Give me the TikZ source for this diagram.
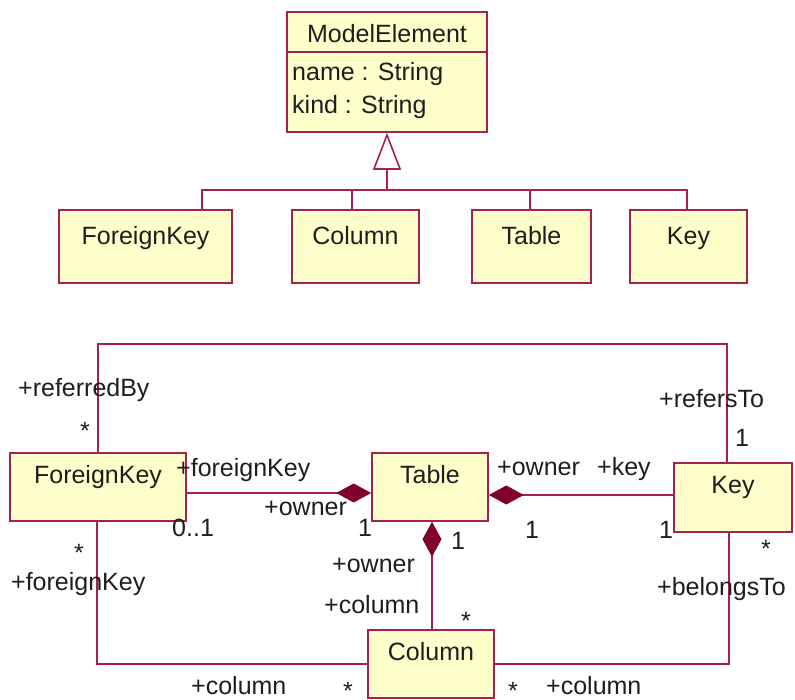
\documentclass[tikz,border=0pt]{standalone}
\usepackage{fontspec}
\setmainfont{Liberation Sans}
\usetikzlibrary{arrows.meta,calc}
\definecolor{umlline}{RGB}{168,32,78}
\definecolor{umlfill}{RGB}{255,255,204}
\definecolor{umldiam}{RGB}{128,0,48}
\definecolor{umltext}{RGB}{30,30,30}
\begin{document}
\begin{tikzpicture}[x=1pt,y=-1pt,
  font=\fontsize{25}{30}\selectfont,
  cls/.style={rectangle, draw=umlline, fill=umlfill, line width=1.6pt, inner sep=0pt},
  ctitle/.style={anchor=base, inner sep=0pt, text=umltext},
  lbl/.style={anchor=base west, inner sep=0pt, text=umltext},
  num/.style={anchor=base, inner sep=0pt, text=umltext},
  starlbl/.style={anchor=base, inner sep=0pt, text=umltext},
  conn/.style={draw=umlline, line width=1.6pt},
  comp/.style={conn, -{Diamond[length=35pt,width=19pt,fill=umldiam,color=umldiam]}},
  gen/.style={conn, -{Triangle[length=37pt,width=28pt,fill=white]}}]
\useasboundingbox (0,0) rectangle (795,700);

% ---------- inheritance part ----------
\node[cls, minimum width=200pt, minimum height=120pt] (me) at (387,72) {};
\draw[conn] ([yshift=-41pt]me.north west) -- ([yshift=-41pt]me.north east);
\node[ctitle] (metitle) at ([yshift=-31pt]me.north) {ModelElement};
\node[lbl] (mename) at (292,81) {name : String};
\node[lbl] (mekind) at (292,114) {kind : String};

\node[cls, minimum width=173pt, minimum height=73pt] (fkA) at (145.5,246.5) {};
\node[cls, minimum width=127pt, minimum height=73pt] (colA) at (355.5,246.5) {};
\node[cls, minimum width=119pt, minimum height=73pt] (tblA) at (531.5,246.5) {};
\node[cls, minimum width=117pt, minimum height=73pt] (keyA) at (688.5,246.5) {};
\node[ctitle] (fkAt) at ([yshift=-35pt]fkA.north) {ForeignKey};
\node[ctitle] (colAt) at ([yshift=-35pt]colA.north) {Column};
\node[ctitle] (tblAt) at ([yshift=-35pt]tblA.north) {Table};
\node[ctitle] (keyAt) at ([yshift=-35pt]keyA.north) {Key};

\coordinate (hub) at (387,190);
\draw[conn] ([xshift=56.5pt]fkA.north) |- (hub) -| ([xshift=-1.5pt]keyA.north);
\draw[conn] ([xshift=-3.5pt]colA.north) |- (hub);
\draw[conn] ([xshift=-1.5pt]tblA.north) |- (hub);
\draw[gen] (hub) -- (me.south);

% ---------- association part ----------
\node[cls, minimum width=176pt, minimum height=68pt] (fk) at (98,487) {};
\node[cls, minimum width=116pt, minimum height=68pt] (tbl) at (430,487) {};
\node[cls, minimum width=118pt, minimum height=69pt] (key) at (733,497.5) {};
\node[cls, minimum width=126pt, minimum height=68pt] (col) at (431,664) {};
\node[ctitle] (fkt) at ([yshift=-31pt]fk.north) {ForeignKey};
\node[ctitle] (tblt) at ([yshift=-31pt]tbl.north) {Table};
\node[ctitle] (keyt) at ([yshift=-31pt]key.north) {Key};
\node[ctitle] (colt) at ([yshift=-31pt]col.north) {Column};

\draw[conn] (fk.north) -- ++(0,-108) -| ([xshift=-6pt]key.north);
\draw[comp] ([yshift=-6pt]fk.east) -- ([yshift=-6pt]tbl.west);
\draw[comp] ([yshift=2.5pt]key.west) -- ([yshift=-8pt]tbl.east);
\draw[comp] ([xshift=1pt]col.north) -- ([xshift=2pt]tbl.south);
\draw[conn] ([xshift=-1pt]fk.south) |- (col.west);
\draw[conn] (col.east) -| ([xshift=-4pt]key.south);

% role names and multiplicities
\node[lbl] (l1) at (18,396) {+referredBy};
\node[starlbl] (s1) at (85,439) {*};
\node[lbl] (l2) at (659,407) {+refersTo};
\node[num] (m1) at (742,446) {1};
\node[lbl] (l3) at (176,476) {+foreignKey};
\node[lbl] (l4) at (264,515) {+owner};
\node[lbl] (m2) at (172,536) {0..1};
\node[num] (m3) at (365,536) {1};
\node[lbl] (l5) at (497,475) {+owner};
\node[lbl] (l6) at (597,475) {+key};
\node[num] (m4) at (532,538) {1};
\node[num] (m5) at (666,538) {1};
\node[num] (m6) at (458,549) {1};
\node[lbl] (l7) at (332,572) {+owner};
\node[lbl] (l8) at (324,613) {+column};
\node[starlbl] (s2) at (466,629) {*};
\node[starlbl] (s3) at (79,561) {*};
\node[lbl] (l9) at (11,590) {+foreignKey};
\node[lbl] (l10) at (191,694) {+column};
\node[starlbl] (s4) at (348,699) {*};
\node[starlbl] (s5) at (513,699) {*};
\node[lbl] (l11) at (546,694) {+column};
\node[starlbl] (s6) at (766,557) {*};
\node[lbl] (l12) at (657,595) {+belongsTo};
\end{tikzpicture}
\end{document}
